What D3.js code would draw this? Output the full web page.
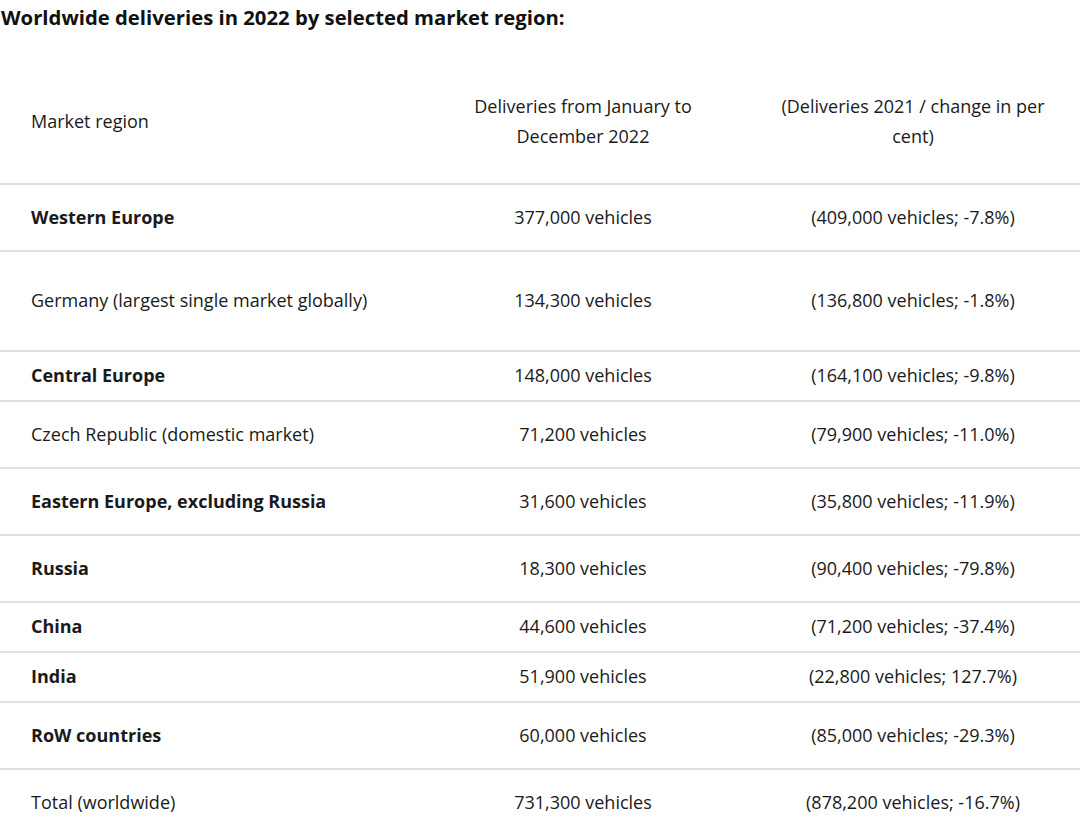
<!DOCTYPE html>
<html>
<head>
<meta charset="utf-8">
<script src="https://cdn.jsdelivr.net/npm/d3@7"></script>
<style>
  body { margin: 0; background: #fff; }
  text { font-family: "Open Sans", "Lato", sans-serif; }
</style>
</head>
<body>
<div id="table"></div>
<script>
const w = 1080
const h = 828

// Table content
const title = "Worldwide deliveries in 2022 by selected market region:"
const headers = [
  ["Market region"],
  ["Deliveries from January to", "December 2022"],
  ["(Deliveries 2021 / change in per", "cent)"]
]
const regions = [ "Western Europe", "Germany (largest single market globally)", "Central Europe",
                  "Czech Republic (domestic market)", "Eastern Europe, excluding Russia", "Russia",
                  "China", "India", "RoW countries", "Total (worldwide)" ]
const boldRegion = [ true, false, true, false, true, true, true, true, true, false ]
const deliveries2022 = [ 377000, 134300, 148000, 71200, 31600, 18300, 44600, 51900, 60000, 731300 ]
const deliveries2021 = [ 409000, 136800, 164100, 79900, 35800, 90400, 71200, 22800, 85000, 878200 ]
const changePct = [ -7.8, -1.8, -9.8, -11.0, -11.9, -79.8, -37.4, 127.7, -29.3, -16.7 ]

// Layout: row separators (the original table has uneven row heights)
const rowLines = [ 184, 251, 351, 401, 468, 535, 602, 652, 702, 769, 837 ]
const colX = [ 31, 583, 913 ]
const fontSize = 18

// plain hyphen for negatives, like the source table
const locale = d3.formatLocale({ decimal: ".", thousands: ",", grouping: [3], currency: ["", ""], minus: "-" })
const fmtNum = locale.format(",")
const fmtPct = locale.format(".1f")

const svg = d3.select("#table")
              .append("svg")
                .attr("width", w)
                .attr("height", h)

svg.append("rect").attr("width", w).attr("height", h).attr("fill", "#fff")

// --- Title ---
svg.append("text")
    .attr("x", 1)
    .attr("y", 25)
    .attr("font-size", 20.3)
    .attr("font-weight", 700)
    .attr("fill", "#111")
    .text(title)

// --- Header row ---
const headerMid = 122
headers.forEach((lines, i) => {
  const t = svg.append("text")
              .attr("x", colX[i])
              .attr("text-anchor", i === 0 ? "start" : "middle")
              .attr("font-size", fontSize)
              .attr("fill", "#1a1a1a")
  lines.forEach((line, j) => {
    t.append("tspan")
      .attr("x", colX[i])
      .attr("y", headerMid + 6 + (j - (lines.length - 1) / 2) * 30)
      .text(line)
  })
})

// --- Row separators ---
svg.selectAll("line.sep")
  .data(rowLines.slice(0, -1))
  .join("line")
    .attr("class", "sep")
    .attr("x1", 0)
    .attr("x2", w)
    .attr("y1", d => d)
    .attr("y2", d => d)
    .attr("stroke", "#d6d6d6")
    .attr("stroke-width", 1.6)

// --- Body rows ---
const rows = svg.selectAll("g.row")
  .data(regions)
  .join("g")
    .attr("class", "row")
    .attr("transform", (d, i) => `translate(0,${(rowLines[i] + rowLines[i + 1]) / 2 + 6})`)

rows.append("text")
    .attr("x", colX[0])
    .attr("font-size", fontSize)
    .attr("font-weight", (d, i) => boldRegion[i] ? 700 : 400)
    .attr("fill", "#1a1a1a")
    .text(d => d)

rows.append("text")
    .attr("x", colX[1])
    .attr("text-anchor", "middle")
    .attr("font-size", fontSize)
    .attr("fill", "#1a1a1a")
    .text((d, i) => `${fmtNum(deliveries2022[i])} vehicles`)

rows.append("text")
    .attr("x", colX[2])
    .attr("text-anchor", "middle")
    .attr("font-size", fontSize)
    .attr("fill", "#1a1a1a")
    .text((d, i) => `(${fmtNum(deliveries2021[i])} vehicles; ${fmtPct(changePct[i])}%)`)
</script>
</body>
</html>
